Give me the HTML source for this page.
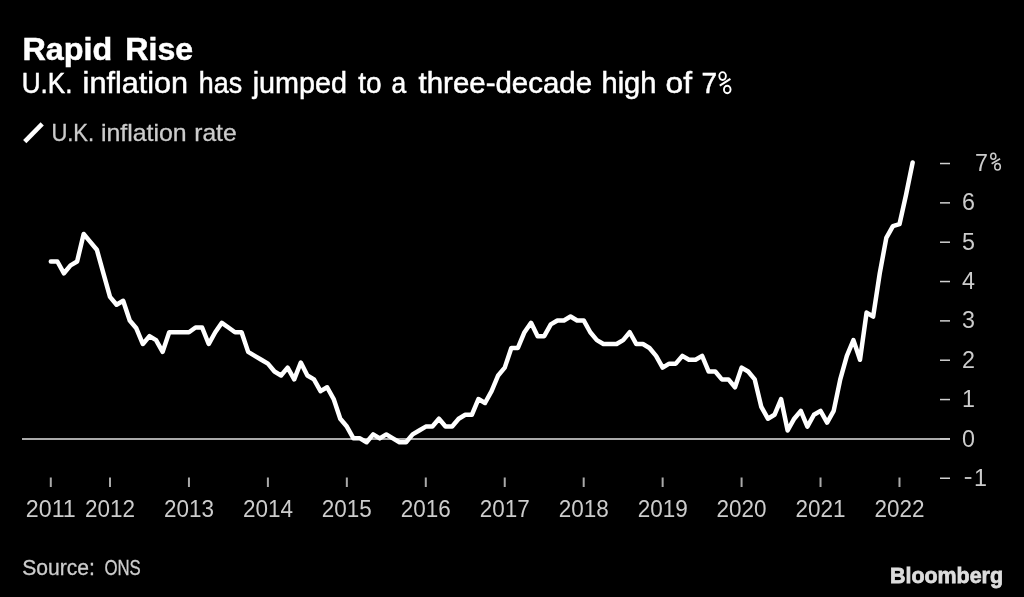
<!DOCTYPE html>
<html><head><meta charset="utf-8"><style>
html,body{margin:0;padding:0;background:#000;width:1024px;height:597px;overflow:hidden}
svg{display:block;will-change:transform}
text{font-family:"Liberation Sans",sans-serif}
</style></head><body>
<svg width="1024" height="597" viewBox="0 0 1024 597">
<rect width="1024" height="597" fill="#000"/>
<text x="22.52" y="59.8" font-size="31.8" fill="#fff" textLength="89.8" lengthAdjust="spacingAndGlyphs" font-weight="bold" stroke="#fff" stroke-width="0.5">Rapid</text>
<text x="125.33" y="59.8" font-size="31.8" fill="#fff" textLength="67.82" lengthAdjust="spacingAndGlyphs" font-weight="bold" stroke="#fff" stroke-width="0.5">Rise</text>
<text x="21.77" y="93.0" font-size="29.6" fill="#fff" textLength="50.75" lengthAdjust="spacingAndGlyphs" stroke="#fff" stroke-width="0.5">U.K.</text>
<text x="82.63" y="93.0" font-size="29.6" fill="#fff" textLength="105.5" lengthAdjust="spacingAndGlyphs" stroke="#fff" stroke-width="0.5">inflation</text>
<text x="198.87" y="93.0" font-size="29.6" fill="#fff" textLength="43.36" lengthAdjust="spacingAndGlyphs" stroke="#fff" stroke-width="0.5">has</text>
<text x="252.64" y="93.0" font-size="29.6" fill="#fff" textLength="94.45" lengthAdjust="spacingAndGlyphs" stroke="#fff" stroke-width="0.5">jumped</text>
<text x="358.16" y="93.0" font-size="29.6" fill="#fff" textLength="23.37" lengthAdjust="spacingAndGlyphs" stroke="#fff" stroke-width="0.5">to</text>
<text x="391.44" y="93.0" font-size="29.6" fill="#fff" textLength="14.72" lengthAdjust="spacingAndGlyphs" stroke="#fff" stroke-width="0.5">a</text>
<text x="418.54" y="93.0" font-size="29.6" fill="#fff" textLength="173.54" lengthAdjust="spacingAndGlyphs" stroke="#fff" stroke-width="0.5">three-decade</text>
<text x="601.52" y="93.0" font-size="29.6" fill="#fff" textLength="54.91" lengthAdjust="spacingAndGlyphs" stroke="#fff" stroke-width="0.5">high</text>
<text x="665.52" y="93.0" font-size="29.6" fill="#fff" textLength="26.47" lengthAdjust="spacingAndGlyphs" stroke="#fff" stroke-width="0.5">of</text>
<text x="701.4" y="93.0" font-size="29.6" fill="#fff" textLength="15.56" lengthAdjust="spacingAndGlyphs" stroke="#fff" stroke-width="0.5">7</text>
<text x="51.38" y="141.0" font-size="23.4" fill="#ccc" textLength="42.77" lengthAdjust="spacingAndGlyphs" stroke="#ccc" stroke-width="0.3">U.K.</text>
<text x="100.91" y="141.0" font-size="23.4" fill="#ccc" textLength="85.75" lengthAdjust="spacingAndGlyphs" stroke="#ccc" stroke-width="0.3">inflation</text>
<text x="194.23" y="141.0" font-size="23.4" fill="#ccc" textLength="42.38" lengthAdjust="spacingAndGlyphs" stroke="#ccc" stroke-width="0.3">rate</text>
<text x="22.18" y="574.6" font-size="22" fill="#ccc" textLength="72.72" lengthAdjust="spacingAndGlyphs" stroke="#ccc" stroke-width="0.3">Source:</text>
<text x="104.44" y="574.6" font-size="22" fill="#ccc" textLength="36.36" lengthAdjust="spacingAndGlyphs" stroke="#ccc" stroke-width="0.3">ONS</text>
<text x="889.99" y="583.3" font-size="22.6" fill="#ddd" textLength="113.02" lengthAdjust="spacingAndGlyphs" font-weight="bold" stroke="#ddd" stroke-width="0.8">Bloomberg</text>
<line x1="24.75" y1="141.6" x2="42.2" y2="123.9" stroke="#fff" stroke-width="4.5"/>
<line x1="22" y1="438.9" x2="950" y2="438.9" stroke="#aaa" stroke-width="2"/>
<g stroke="#d0d0d0" stroke-width="1.5">
<line x1="940" y1="478.24" x2="950" y2="478.24"/>
<line x1="940" y1="438.90" x2="950" y2="438.90"/>
<line x1="940" y1="399.56" x2="950" y2="399.56"/>
<line x1="940" y1="360.22" x2="950" y2="360.22"/>
<line x1="940" y1="320.88" x2="950" y2="320.88"/>
<line x1="940" y1="281.54" x2="950" y2="281.54"/>
<line x1="940" y1="242.20" x2="950" y2="242.20"/>
<line x1="940" y1="202.86" x2="950" y2="202.86"/>
<line x1="940" y1="163.52" x2="950" y2="163.52"/>
</g>
<g fill="#ccc" font-size="23.3">
<rect x="964.8" y="477.1" width="6.6" height="1.8"/>
<text x="980.5" y="485.84" text-anchor="middle">1</text>
<text x="962" y="446.50">0</text>
<text x="962" y="407.16">1</text>
<text x="962" y="367.82">2</text>
<text x="962" y="328.48">3</text>
<text x="962" y="289.14">4</text>
<text x="962" y="249.80">5</text>
<text x="962" y="210.46">6</text>
<text x="975" y="171.12">7</text>
</g>
<g stroke="#aaa" stroke-width="2">
<line x1="50.79" y1="477.5" x2="50.79" y2="487"/>
<line x1="110.00" y1="477.5" x2="110.00" y2="487"/>
<line x1="188.95" y1="477.5" x2="188.95" y2="487"/>
<line x1="267.90" y1="477.5" x2="267.90" y2="487"/>
<line x1="346.84" y1="477.5" x2="346.84" y2="487"/>
<line x1="425.79" y1="477.5" x2="425.79" y2="487"/>
<line x1="504.74" y1="477.5" x2="504.74" y2="487"/>
<line x1="583.69" y1="477.5" x2="583.69" y2="487"/>
<line x1="662.64" y1="477.5" x2="662.64" y2="487"/>
<line x1="741.58" y1="477.5" x2="741.58" y2="487"/>
<line x1="820.53" y1="477.5" x2="820.53" y2="487"/>
<line x1="899.48" y1="477.5" x2="899.48" y2="487"/>
</g>
<g fill="#ccc" font-size="23.1" text-anchor="middle">
<text x="50.79" y="517" textLength="50" lengthAdjust="spacingAndGlyphs">2011</text>
<text x="110.00" y="517" textLength="50" lengthAdjust="spacingAndGlyphs">2012</text>
<text x="188.95" y="517" textLength="50" lengthAdjust="spacingAndGlyphs">2013</text>
<text x="267.90" y="517" textLength="50" lengthAdjust="spacingAndGlyphs">2014</text>
<text x="346.84" y="517" textLength="50" lengthAdjust="spacingAndGlyphs">2015</text>
<text x="425.79" y="517" textLength="50" lengthAdjust="spacingAndGlyphs">2016</text>
<text x="504.74" y="517" textLength="50" lengthAdjust="spacingAndGlyphs">2017</text>
<text x="583.69" y="517" textLength="50" lengthAdjust="spacingAndGlyphs">2018</text>
<text x="662.64" y="517" textLength="50" lengthAdjust="spacingAndGlyphs">2019</text>
<text x="741.58" y="517" textLength="50" lengthAdjust="spacingAndGlyphs">2020</text>
<text x="820.53" y="517" textLength="50" lengthAdjust="spacingAndGlyphs">2021</text>
<text x="899.48" y="517" textLength="50" lengthAdjust="spacingAndGlyphs">2022</text>
</g>
<polyline points="50.79,261.50 57.37,261.50 63.95,273.29 70.53,265.43 77.11,261.50 83.68,233.99 90.26,241.85 96.84,249.71 103.42,273.29 110.00,296.87 116.58,304.73 123.16,300.80 129.74,320.45 136.32,328.31 142.89,344.03 149.47,336.17 156.05,340.10 162.63,351.89 169.21,332.24 175.79,332.24 182.37,332.24 188.95,332.24 195.53,327.52 202.11,327.52 208.69,344.03 215.26,332.24 221.84,322.81 228.42,327.52 235.00,332.24 241.58,332.24 248.16,351.89 254.74,355.82 261.32,359.75 267.90,363.68 274.47,371.54 281.05,375.47 287.63,367.61 294.21,379.40 300.79,362.50 307.37,375.47 313.95,379.40 320.53,391.19 327.11,387.26 333.69,399.05 340.26,418.70 346.84,426.56 353.42,438.35 360.00,438.35 366.58,442.28 373.16,434.42 379.74,438.35 386.32,434.42 392.90,438.35 399.48,442.28 406.05,442.28 412.63,434.42 419.21,430.49 425.79,426.56 432.37,426.56 438.95,418.70 445.53,426.56 452.11,426.56 458.69,418.70 465.27,414.77 471.84,414.77 478.42,399.05 485.00,402.98 491.58,391.19 498.16,375.47 504.74,367.61 511.32,347.96 517.90,347.96 524.48,332.24 531.06,322.81 537.63,336.17 544.21,336.17 550.79,324.38 557.37,320.45 563.95,320.45 570.53,316.52 577.11,320.45 583.69,320.45 590.27,332.24 596.85,340.10 603.42,344.03 610.00,344.03 616.58,344.03 623.16,340.10 629.74,332.24 636.32,344.03 642.90,344.03 649.48,347.96 656.06,355.82 662.64,367.61 669.21,363.68 675.79,363.68 682.37,355.82 688.95,359.75 695.53,359.75 702.11,355.82 708.69,371.54 715.27,371.54 721.85,379.40 728.43,379.40 735.00,387.26 741.58,367.61 748.16,371.54 754.74,379.40 761.32,406.91 767.90,418.70 774.48,414.77 781.06,399.05 787.64,430.49 794.22,418.70 800.79,410.84 807.37,426.56 813.95,414.77 820.53,410.84 827.11,422.63 833.69,410.84 840.27,379.40 846.85,355.82 853.43,340.10 860.01,359.75 866.58,312.59 873.16,316.52 879.74,273.29 886.32,237.92 892.90,226.13 899.48,224.17 906.06,194.69 912.64,162.46" fill="none" stroke="#fff" stroke-width="4.5" stroke-linejoin="round" stroke-linecap="round"/>
<g fill="none" stroke="#fff"><ellipse cx="722.6" cy="76.05" rx="3.30" ry="3.90" stroke-width="1.9"/><ellipse cx="727.25" cy="89.5" rx="3.30" ry="3.75" stroke-width="1.9"/><line x1="719.8" y1="85.7" x2="730.4" y2="78.9" stroke-width="2.1"/></g>
<g fill="none" stroke="#ccc"><ellipse cx="993.3" cy="156.2" rx="2.55" ry="3.05" stroke-width="1.5"/><ellipse cx="997.55" cy="166.7" rx="2.80" ry="3.25" stroke-width="1.5"/><line x1="991.6" y1="163.8" x2="1000.1" y2="158.8" stroke-width="1.6"/></g>
</svg>
</body></html>
